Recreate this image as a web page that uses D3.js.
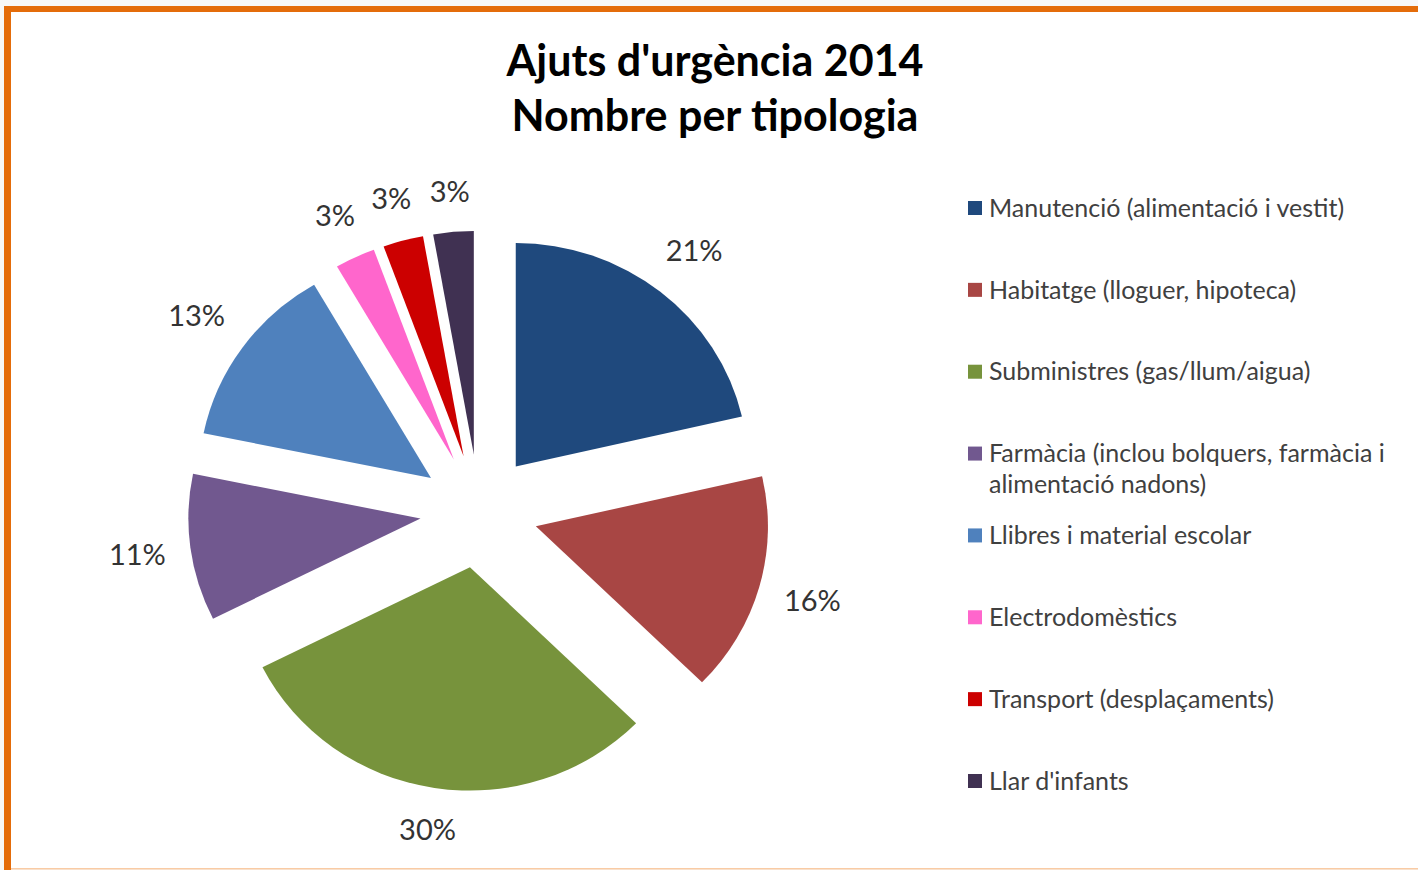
<!DOCTYPE html>
<html>
<head>
<meta charset="utf-8">
<script src="https://cdn.jsdelivr.net/npm/d3@7"></script>
<style>
  body { margin: 0; background: #f7f7f7; }
  svg { display: block; }
</style>
</head>
<body>
<svg id="chart" width="1418" height="870"></svg>
<script>
const categories = [
  'Manutenció (alimentació i vestit)',
  'Habitatge (lloguer, hipoteca)',
  'Subministres (gas/llum/aigua)',
  'Farmàcia (inclou bolquers, farmàcia i|alimentació nadons)',
  'Llibres i material escolar',
  'Electrodomèstics',
  'Transport (desplaçaments)',
  "Llar d'infants"
]
// shares (labels show them rounded)
const values = [21.4, 15.9, 30.3, 10.6, 13.4, 2.8, 2.8, 2.8]
const colors = ['#1F497D', '#A84644', '#77933C', '#71588F', '#4F81BD', '#FF66CC', '#CC0000', '#403152']
const titleLines = ["Ajuts d'urgència 2014", 'Nombre per tipologia']

const svg = d3.select('#chart')
const width = +svg.attr('width')
const height = +svg.attr('height')
const font = 'Lato, Carlito, sans-serif'

// frame
svg.append('rect').attr('x', 0).attr('y', 0).attr('width', width).attr('height', height).attr('fill', '#f7f7f7')
svg.append('rect').attr('x', 4).attr('y', 6).attr('width', width).attr('height', height - 7).attr('fill', '#fff')
svg.append('rect').attr('x', 4).attr('y', 6).attr('width', width).attr('height', 6).attr('fill', '#E46C0A')
svg.append('rect').attr('x', 4).attr('y', 6).attr('width', 7).attr('height', height).attr('fill', '#E46C0A')
svg.append('rect').attr('x', 11).attr('y', height - 2).attr('width', width).attr('height', 1.5).attr('fill', '#F9CBA4')

// title
svg.append('text')
  .attr('x', 715).attr('y', 76)
  .attr('text-anchor', 'middle')
  .style('font-family', font).style('font-weight', 'bold').style('font-size', '43px')
  .attr('fill', '#000')
  .selectAll('tspan')
  .data(titleLines)
  .enter()
  .append('tspan')
    .attr('x', 715)
    .attr('dy', (d, i) => i === 0 ? 0 : 55)
    .text(d => d)

// pie
const cx = 479, cy = 511
const R = 228
const explode = 58
const gap = 22
const sx = 1.018, sy = 0.98   // the original is slightly stretched

const pie = d3.pie().sort(null).value(d => d)
const arc = d3.arc().innerRadius(0).outerRadius(R)
const arcs = pie(values)
const total = d3.sum(values)
const mid = d => (d.startAngle + d.endAngle) / 2

const g = svg.append('g').attr('transform', `translate(${cx}, ${cy})`)

const slices = g.selectAll('g.slice')
  .data(arcs)
  .enter()
  .append('g')
    .attr('class', 'slice')
    .attr('transform', d => `translate(${explode * Math.sin(mid(d)) * sx}, ${-explode * Math.cos(mid(d)) * sy})`)

slices.append('path')
  .attr('d', arc)
  .attr('transform', `scale(${sx}, ${sy})`)
  .attr('fill', (d, i) => colors[i])

const labels = slices.append('text')
  .attr('dy', '0.35em')
  .attr('text-anchor', 'middle')
  .style('font-family', font).style('font-size', '29px')
  .attr('fill', '#333')
  .text(d => Math.round(d.value / total * 100) + '%')

// push each label just outside the arc, depending on its box size
labels.each(function(d) {
  const b = this.getBBox()
  const a = mid(d)
  const s = Math.sin(a), c = Math.cos(a)
  const r = R + gap + Math.abs(s) * b.width / 2 + Math.abs(c) * b.height / 2
  d3.select(this).attr('x', r * s * sx).attr('y', -r * c * sy)
})

// legend
const legendY = d3.scaleLinear().domain([0, categories.length - 1]).range([208, 781])

const legend = svg.selectAll('g.legend')
  .data(categories)
  .enter()
  .append('g')
    .attr('class', 'legend')
    .attr('transform', (d, i) => `translate(968, ${legendY(i)})`)

legend.append('rect')
  .attr('x', 0).attr('y', -7)
  .attr('width', 14).attr('height', 14)
  .attr('fill', (d, i) => colors[i])

legend.append('text')
  .attr('x', 21).attr('y', 0)
  .style('font-family', font).style('font-size', '25px')
  .attr('fill', '#404040')
  .selectAll('tspan')
  .data(d => d.split('|'))
  .enter()
  .append('tspan')
    .attr('x', 21)
    .attr('dy', (d, i) => i === 0 ? '0.35em' : 31)
    .text(d => d)
</script>
</body>
</html>
